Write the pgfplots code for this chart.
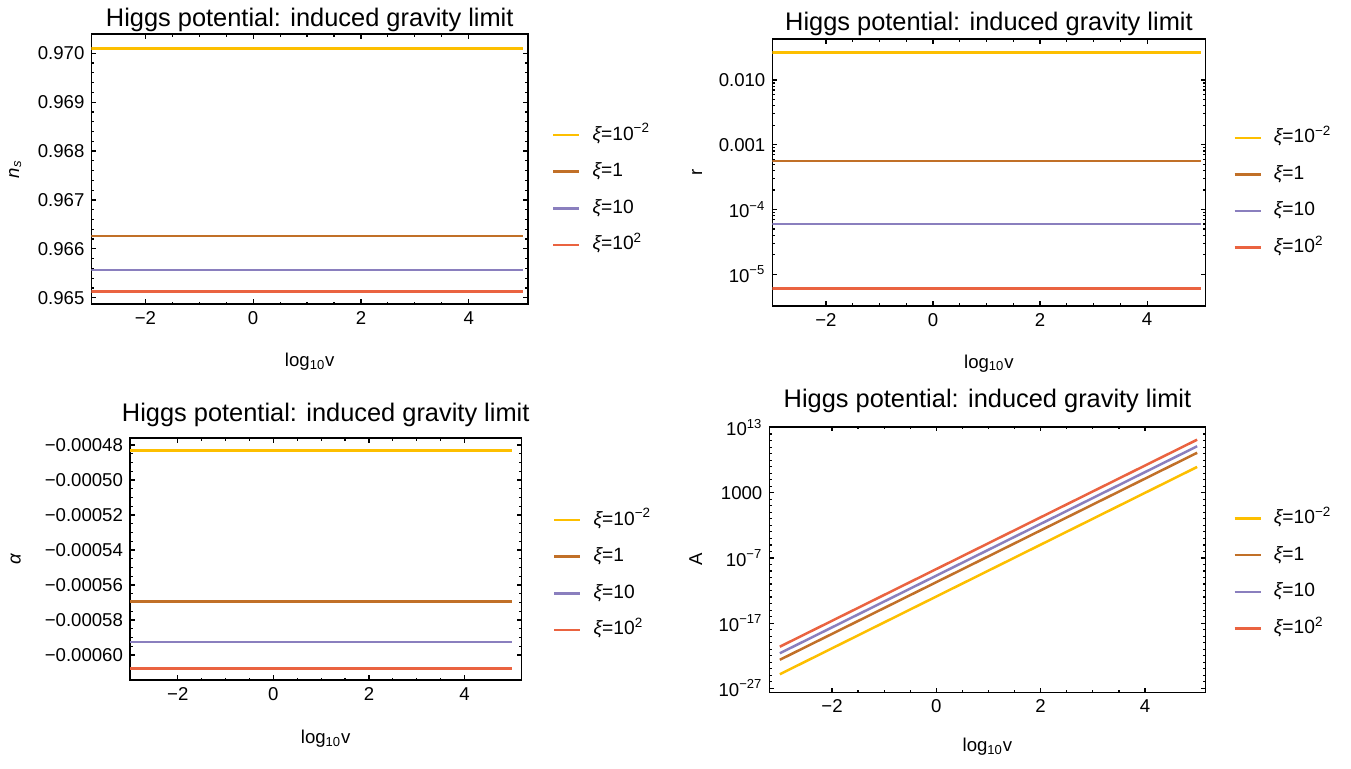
\documentclass[border=0pt]{standalone}
\usepackage{pgfplots}
\pgfplotsset{compat=1.18}
\usepackage{fontspec}
\setmainfont{Liberation Sans}
\definecolor{cY}{RGB}{253,191,0}
\definecolor{cB}{RGB}{193,112,40}
\definecolor{cP}{RGB}{138,127,190}
\definecolor{cR}{RGB}{234,99,64}
\newcommand{\xil}[1]{{\itshape ξ}=#1}
\pgfplotsset{
  legend image code/.code={\draw[#1, line width=1.25pt] (0pt,0pt) -- (13pt,0pt);},
  hp/.style={
    scale only axis,
    anchor=south west,
    axis line style={line width=0.9pt},
    every tick/.style={black, line width=0.6pt},
    major tick length=2.4pt, minor tick length=1.3pt,
    tick label style={font=\fontsize{9.3}{10}\selectfont},
    label style={font=\fontsize{9.3}{10}\selectfont},
    every axis title shift=0pt,
    title style={font=\fontsize{12.7}{13}\selectfont, anchor=center},
    xtick={-2,0,2,4}, xticklabels={−2,0,2,4},
    minor x tick num=3,
    scaled x ticks=false, scaled y ticks=false,
    xmin=-3,
    xlabel={log\textsubscript{10}v},
    title={Higgs potential: induced gravity limit},
    legend cell align=left,
    legend style={draw=none, fill=none, inner sep=0pt, anchor=west,
      font=\fontsize{9.6}{10}\selectfont,
      nodes={inner sep=0pt, text height=6.9pt, text depth=2pt},
      column sep=6pt, row sep=9.4pt},
    legend entries={\xil{10\textsuperscript{−2}}, \xil{1}, \xil{10}, \xil{10\textsuperscript{2}}},
    every axis plot/.append style={line width=1.25pt},
  }
}
\begin{document}
\begin{tikzpicture}
\useasboundingbox (0,0) rectangle (675.5pt,-384.5pt);
% top-left: n_s
\begin{axis}[hp,
  at={(45.75pt,-152.15pt)}, width=218.25pt, height=135pt,
  xmax=5.1, ymin=0.964865, ymax=0.970389,
  ytick={0.965,0.966,0.967,0.968,0.969,0.970},
  yticklabels={0.965,0.966,0.967,0.968,0.969,0.970},
  minor y tick num=4,
  ylabel={{\itshape n}\textsubscript{\itshape s}},
  title style={at={(axis description cs:0.5,1.053)}},
  xlabel style={at={(axis description cs:0.5,-0.2126)}, anchor=center},
  ylabel style={at={(axis description cs:-0.175,0.5)}, anchor=center},
  legend style={at={(axis description cs:1.0543,0.4233)}},
]
\addplot[cY] coordinates {(-3,0.970102) (5,0.970102)};
\addplot[cB] coordinates {(-3,0.966262) (5,0.966262)};
\addplot[cP] coordinates {(-3,0.965567) (5,0.965567)};
\addplot[cR] coordinates {(-3,0.965131) (5,0.965131)};
\end{axis}
% top-right: r
\begin{axis}[hp, ymode=log,
  at={(386.2pt,-153pt)}, width=216.55pt, height=133.5pt,
  xmax=5.09, ymin=3.243e-6, ymax=0.04295,
  ytick={1e-5,1e-4,1e-3,1e-2},
  yticklabels={10\textsuperscript{−5},10\textsuperscript{−4},0.001,0.010},
  ylabel={r},
  title style={at={(axis description cs:0.5,1.056)}},
  xlabel style={at={(axis description cs:0.5,-0.2146)}, anchor=center},
  ylabel style={at={(axis description cs:-0.174,0.5)}, anchor=center},
  legend style={at={(axis description cs:1.0635,0.4243)}},
]
\addplot[cY] coordinates {(-3,0.02680) (5,0.02680)};
\addplot[cB] coordinates {(-3,5.66e-4) (5,5.66e-4)};
\addplot[cP] coordinates {(-3,5.95e-5) (5,5.95e-5)};
\addplot[cR] coordinates {(-3,6.08e-6) (5,6.08e-6)};
\end{axis}
% bottom-left: alpha
\begin{axis}[hp,
  at={(65pt,-340.15pt)}, width=195.7pt, height=121pt,
  xmax=5.19, ymin=-0.0006145, ymax=-0.0004762,
  ytick={-0.0006,-0.00058,-0.00056,-0.00054,-0.00052,-0.0005,-0.00048},
  yticklabels={−0.00060,−0.00058,−0.00056,−0.00054,−0.00052,−0.00050,−0.00048},
  minor y tick num=3,
  ylabel={{\itshape α}},
  title style={at={(axis description cs:0.5,1.096)}},
  xlabel style={at={(axis description cs:0.5,-0.2397)}, anchor=center},
  ylabel style={at={(axis description cs:-0.292,0.5)}, anchor=center},
  legend style={at={(axis description cs:1.08,0.435)}},
]
\addplot[cY] coordinates {(-3,-0.0004833) (5,-0.0004833)};
\addplot[cB] coordinates {(-3,-0.0005695) (5,-0.0005695)};
\addplot[cP] coordinates {(-3,-0.0005926) (5,-0.0005926)};
\addplot[cR] coordinates {(-3,-0.0006078) (5,-0.0006078)};
\end{axis}
% bottom-right: A
\begin{axis}[hp, ymode=log,
  at={(384.7pt,-346.25pt)}, width=218.05pt, height=132.95pt,
  xmin=-3.2, xmax=5.16, ymin=2.3e-28, ymax=1.4e13,
  ytick={1e-27,1e-17,1e-7,1e3,1e13},
  yticklabels={10\textsuperscript{−27},10\textsuperscript{−17},10\textsuperscript{−7},1000,10\textsuperscript{13}},
  minor ytick={1e-26,1e-25,1e-24,1e-23,1e-22,1e-21,1e-20,1e-19,1e-18,1e-16,1e-15,1e-14,1e-13,1e-12,1e-11,1e-10,1e-9,1e-8,1e-6,1e-5,1e-4,1e-3,1e-2,1e-1,1,10,100,1e4,1e5,1e6,1e7,1e8,1e9,1e10,1e11,1e12},
  ylabel={A},
  title style={at={(axis description cs:0.5,1.096)}},
  xlabel style={at={(axis description cs:0.5,-0.205)}, anchor=center},
  ylabel style={at={(axis description cs:-0.169,0.5)}, anchor=center},
  legend style={at={(axis description cs:1.063,0.4475)}},
]
\addplot[cY] coordinates {(-3,1.45e-25) (5,9.1e6)};
\addplot[cB] coordinates {(-3,2.4e-23) (5,1.35e9)};
\addplot[cP] coordinates {(-3,2.4e-22) (5,1.35e10)};
\addplot[cR] coordinates {(-3,2.45e-21) (5,1.38e11)};
\end{axis}
\end{tikzpicture}
\end{document}
